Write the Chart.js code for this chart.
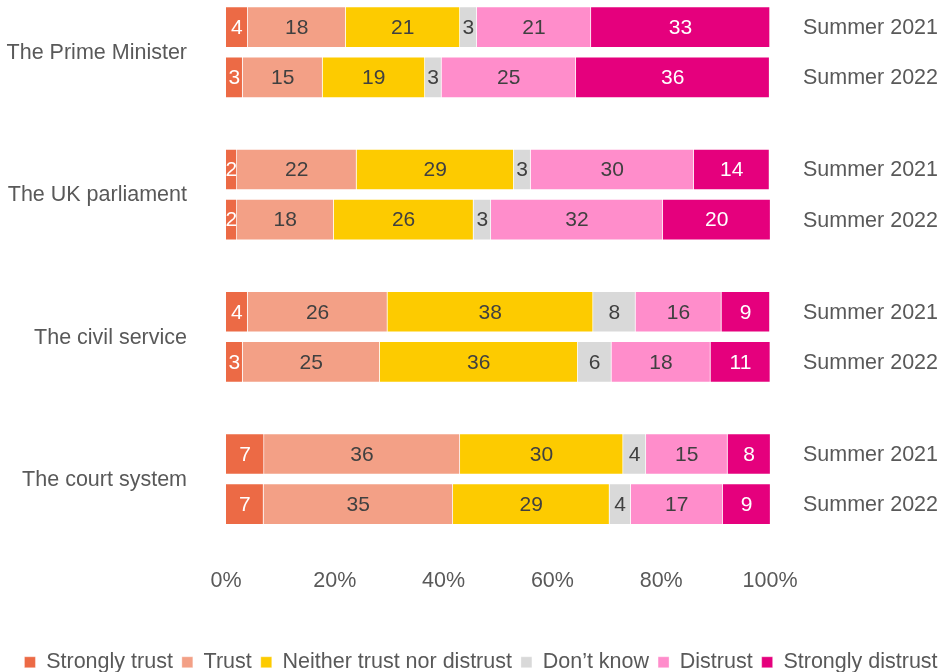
<!DOCTYPE html>
<html>
<head>
<meta charset="utf-8">
<script src="https://cdn.jsdelivr.net/npm/chart.js@4"></script>
<style>
  html, body { margin: 0; padding: 0; background: #fff; }
  #wrap { width: 950px; height: 672px; }
</style>
</head>
<body>
<div id="wrap"><canvas id="chart" width="950" height="672"></canvas></div>
<script>
const institutions = ['The Prime Minister', 'The UK parliament', 'The civil service', 'The court system'];
const waves = ['Summer 2021', 'Summer 2022'];
const answers = ['Strongly trust', 'Trust', 'Neither trust nor distrust', 'Don\u2019t know', 'Distrust', 'Strongly distrust'];

// one value per bar: PM 2021, PM 2022, parliament 2021, ...
const stronglyTrust    = [4.0, 3.06, 2.0, 2.0, 3.98, 3.06, 7.0, 6.9];
const trust            = [18.0, 14.7, 22.0, 17.8, 25.7, 25.2, 36.0, 34.8];
const neither          = [21.0, 18.8, 28.9, 25.7, 37.8, 36.4, 30.0, 28.8];
const dontKnow         = [3.1, 3.06, 3.1, 3.2, 7.8, 6.2, 4.2, 3.9];
const distrust         = [21.0, 24.7, 30.0, 31.6, 15.8, 18.2, 15.0, 16.9];
const stronglyDistrust = [32.9, 35.6, 13.9, 19.8, 8.9, 11.0, 7.9, 8.8];

const xTicks = [0, 20, 40, 60, 80, 100];

const colors = ['#ec6a45', '#f3a086', '#fdcb00', '#d9d9d9', '#ff8dcb', '#e5007d'];
const FONT = '"Liberation Sans", Arial, sans-serif';
const GROUP_STEP = 2.834;   // distance between institution pairs, in bar units
const UNIT_PX = 50.2;
const FIRST_BAR_PX = 27.2;
const PAD_LEFT = 12;

function barPos(i) {
  return Math.floor(i / 2) * GROUP_STEP + (i % 2);
}

const series = [stronglyTrust, trust, neither, dontKnow, distrust, stronglyDistrust];

const datasets = series.map((vals, k) => ({
  label: answers[k],
  data: vals.map((v, i) => ({ x: v, y: barPos(i) })),
  backgroundColor: colors[k],
  borderColor: 'rgba(255,255,255,0.35)',
  borderWidth: 1,
  barThickness: 41
}));

// pin the bar axis to a fixed pixel pitch once the final chart area is known
const fixRows = {
  id: 'fixRows',
  afterLayout(chart) {
    const s = chart.scales.y;
    s.min = -(FIRST_BAR_PX - s.top) / UNIT_PX;
    s.max = s.min + (s.bottom - s.top) / UNIT_PX;
    s.configure();
  }
};

const segmentLabels = {
  id: 'segmentLabels',
  afterDatasetsDraw(chart) {
    const ctx = chart.ctx;
    ctx.save();
    ctx.font = '21px ' + FONT;
    ctx.textAlign = 'center';
    ctx.textBaseline = 'middle';
    chart.data.datasets.forEach((ds, k) => {
      const meta = chart.getDatasetMeta(k);
      meta.data.forEach((bar, i) => {
        const p = bar.getCenterPoint();
        ctx.fillStyle = (k === 0 || k === 5) ? '#ffffff' : '#404040';
        ctx.fillText(Math.round(series[k][i]), p.x, p.y + 1);
      });
    });
    ctx.restore();
  }
};

const sideLabels = {
  id: 'sideLabels',
  afterDraw(chart) {
    const ctx = chart.ctx;
    const y = chart.scales.y;
    ctx.save();
    ctx.font = '21.5px ' + FONT;
    ctx.fillStyle = '#595959';
    ctx.textBaseline = 'middle';
    ctx.textAlign = 'right';
    institutions.forEach((name, g) => {
      const mid = (y.getPixelForValue(barPos(g * 2)) + y.getPixelForValue(barPos(g * 2 + 1))) / 2;
      ctx.fillText(name, 187, mid + 1);
    });
    ctx.textAlign = 'left';
    for (let i = 0; i < institutions.length * 2; i++) {
      ctx.fillText(waves[i % 2], 803, y.getPixelForValue(barPos(i)) + 1);
    }
    ctx.restore();
  }
};

new Chart(document.getElementById('chart'), {
  type: 'bar',
  data: { datasets: datasets },
  plugins: [fixRows, segmentLabels, sideLabels],
  options: {
    responsive: false,
    animation: false,
    indexAxis: 'y',
    layout: { padding: { top: 0, left: PAD_LEFT, right: 0, bottom: -11 } },
    scales: {
      x: {
        type: 'linear',
        stacked: true,
        min: 0,
        max: 100,
        grid: { display: false, drawTicks: false },
        border: { display: false },
        afterBuildTicks: s => { s.ticks = xTicks.map(v => ({ value: v })); },
        afterFit: s => { s.height += 29; },
        ticks: {
          padding: 20,
          color: '#595959',
          font: { family: FONT, size: 21.5 },
          callback: v => v + '%'
        }
      },
      y: {
        type: 'linear',
        stacked: true,
        reverse: true,
        offset: false,
        bounds: 'data',
        grid: { display: false, drawTicks: false },
        border: { display: false },
        ticks: { display: false },
        afterFit: s => { s.width = 226 - PAD_LEFT; }
      },
      yRight: {
        type: 'linear',
        position: 'right',
        grid: { display: false, drawTicks: false },
        border: { display: false },
        ticks: { display: false },
        afterFit: s => { s.width = 180; }
      }
    },
    plugins: {
      tooltip: { enabled: false },
      legend: {
        position: 'bottom',
        labels: {
          boxWidth: 11,
          boxHeight: 11,
          padding: 9,
          color: '#595959',
          font: { family: FONT, size: 21.5 }
        }
      }
    }
  }
});
</script>
</body>
</html>
